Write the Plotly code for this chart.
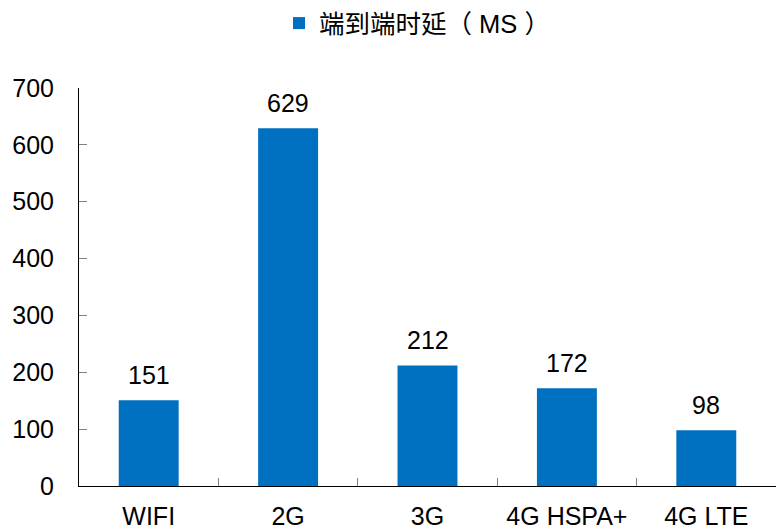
import plotly.graph_objects as go

categories = ["WIFI", "2G", "3G", "4G HSPA+", "4G LTE"]
latency_ms = [151, 629, 212, 172, 98]
series_name = "端到端时延（ MS ）"
y_ticks = [0, 100, 200, 300, 400, 500, 600, 700]

FONT = "Liberation Sans, Arial, Noto Sans CJK SC"

fig = go.Figure()
fig.add_trace(go.Bar(
    x=categories, y=latency_ms, name=series_name,
    marker=dict(color="#0070C0", line=dict(width=0)),
    width=0.43, hoverinfo="x+y",
))

for c, v in zip(categories, latency_ms):
    fig.add_annotation(x=c, y=v, text=str(v), showarrow=False,
                       yanchor="bottom", yshift=9,
                       font=dict(size=25, color="#000000", family=FONT))

fig.update_layout(
    width=777, height=529,
    margin=dict(l=79, r=1, t=88, b=43),
    paper_bgcolor="white", plot_bgcolor="white",
    showlegend=True,
    legend=dict(orientation="h", xref="container", yref="container",
                x=279 / 777, xanchor="left", y=1.0, yanchor="top",
                font=dict(size=25.5, color="#000000", family=FONT),
                itemwidth=30, bgcolor="rgba(0,0,0,0)"),
    font=dict(family=FONT, color="#000000"),
)
fig.update_xaxes(
    showline=True, linecolor="#000000", linewidth=1, automargin=False,
    ticks="inside", tickson="boundaries", ticklen=8, tickcolor="#808080",
    tickfont=dict(size=25), showgrid=False, range=[-0.5, 4.5],
    ticklabelstandoff=8,
)
fig.update_yaxes(
    range=[0, 700], tickvals=y_ticks, showline=True, linecolor="#000000", linewidth=1,
    automargin=False,
    ticks="inside", ticklen=8, tickcolor="#808080", tickfont=dict(size=25),
    showgrid=False, zeroline=False, ticklabelstandoff=19,
)
fig.write_html("out.html", config={"displayModeBar": False},
               post_script="document.body.style.margin='0';document.body.style.overflow='hidden';")
